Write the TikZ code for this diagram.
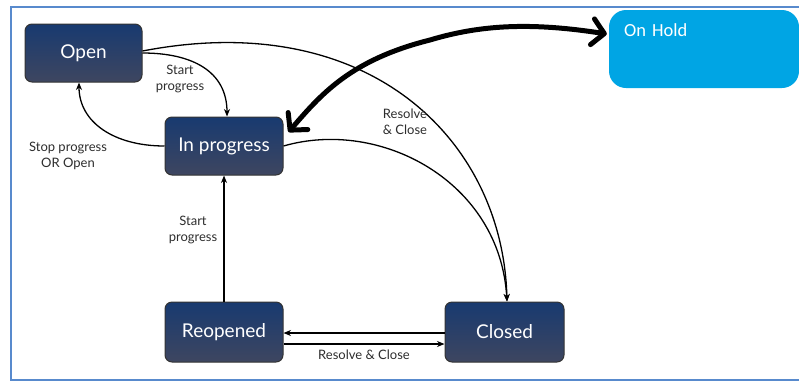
\documentclass[tikz,border=0pt]{standalone}
\usepackage{fontspec}
\setmainfont{Lato}
\newfontfamily\holdfont{Carlito}
\usetikzlibrary{arrows.meta,calc}

\definecolor{frameblue}{RGB}{88,138,205}
\definecolor{statetop}{RGB}{24,58,112}
\definecolor{statebot}{RGB}{62,70,96}
\definecolor{holdblue}{RGB}{0,165,228}
\definecolor{labelgray}{RGB}{45,45,45}

\begin{document}
\begin{tikzpicture}[x=1pt,y=-1pt,
  state/.style={draw=black!80, line width=1pt, rounded corners=7pt,
    top color=statetop, bottom color=statebot, text=white,
    font=\fontsize{19}{22}\selectfont,
    minimum width=118pt, minimum height=58pt, inner sep=0pt},
  holdbox/.style={fill=holdblue, rounded corners=17pt, text=white,
    font=\holdfont\fontsize{18.5}{20}\selectfont,
    text width=160pt, align=left, inner xsep=15pt, inner ysep=0pt,
    text height=26pt, text depth=52pt},
  trans/.style={line width=1.3pt, -{Stealth[length=7.5pt,width=6pt]}},
  lbl/.style={text=labelgray, font=\fontsize{13}{16.5}\selectfont,
    align=center, inner sep=0pt},
  bigarrow/.style={line width=5pt, line cap=round, line join=round,
    {Straight Barb[length=12pt,width=26pt,round]}-{Straight Barb[length=12pt,width=26pt,round]}}
  ]
\useasboundingbox (0,0) rectangle (799,381);

% outer frame
\draw[frameblue, line width=2pt] (799,7) -- (10.5,7) -- (10.5,379.5) -- (799,379.5);

% states
\node[state, minimum width=117pt] (open) at (83.5,53) {Open};
\node[state] (inprog) at (224,146) {In progress};
\node[state, minimum height=60pt] (reopen) at (224,332) {Reopened};
\node[state, minimum height=60pt, minimum width=119pt] (closed) at (504.5,332) {Closed};
\node[holdbox] (onhold) at (704,49) {On Hold};

% transitions
\draw[trans] (open.east) .. controls +(50,0) and +(0,-45) .. ([xshift=3pt]inprog.north);
\draw[trans] (inprog.west) .. controls +(-50,0) and +(0,40) .. ([xshift=-4.5pt]open.south);
\draw[trans] ([yshift=2pt]open.east) .. controls +(228,-44) and +(-4,-160) .. ([xshift=2.5pt]closed.north);
\draw[trans] (inprog.east) .. controls +(97,-28) and +(-7,-120) .. ([xshift=2.5pt]closed.north);
\draw[trans] (reopen.north) -- (inprog.south);
\draw[trans] ($(closed.west)+(0,1)$) -- ($(reopen.east)+(0,1)$);
\draw[trans] ($(reopen.east)+(0,12)$) -- ($(closed.west)+(0,12)$);

% transition labels
\node[lbl] (lstart1) at (180,79) {Start\\progress};
\node[lbl] (lstop) at (68,156) {Stop progress\\OR Open};
\node[lbl] (lres1) at (405,122) {Resolve\\\& Close};
\node[lbl] (lstart2) at (193,230) {Start\\progress};
\node[lbl] (lres2) at (364,355) {Resolve \& Close};

% hand-drawn link between In progress and On Hold
\coordinate (bend) at (430,40);
\draw[bigarrow] ($(inprog.east)+(5,-14)$) .. controls +(32,-37) and +(-80,20) .. (bend)
  .. controls +(50,-15) and +(-77,-12) .. ($(onhold.west)+(-2,-15)$);
\end{tikzpicture}
\end{document}
